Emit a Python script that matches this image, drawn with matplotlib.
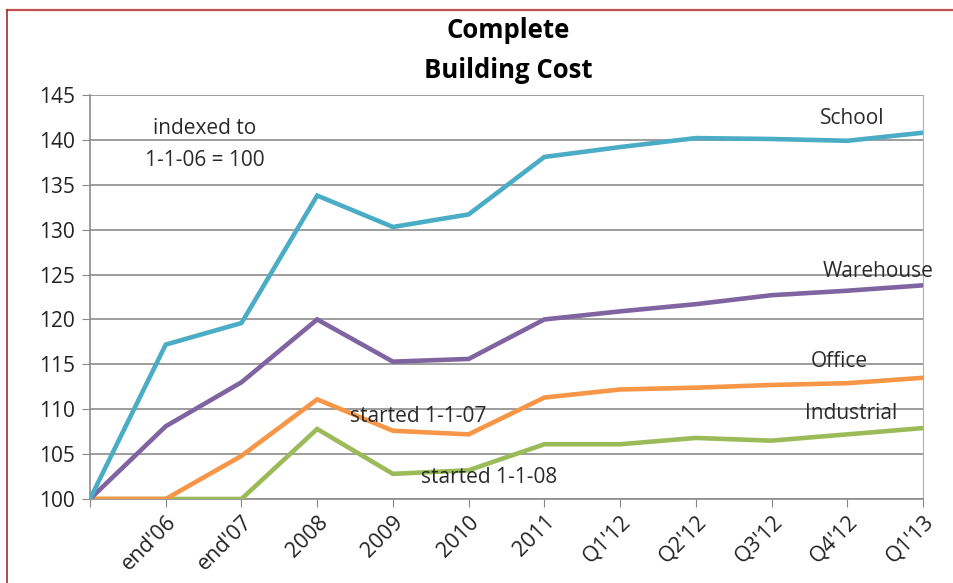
import matplotlib
matplotlib.use("Agg")
import matplotlib.pyplot as plt
from matplotlib.lines import Line2D

plt.rcParams['font.family'] = ['Open Sans', 'DejaVu Sans']

categories = ["", "end'06", "end'07", "2008", "2009", "2010", "2011",
              "Q1'12", "Q2'12", "Q3'12", "Q4'12", "Q1'13"]
school = [100, 117.2, 119.6, 133.8, 130.3, 131.7, 138.1, 139.2, 140.2, 140.1, 139.9, 140.8]
warehouse = [100, 108.1, 113.0, 120.0, 115.3, 115.6, 120.0, 120.9, 121.7, 122.7, 123.2, 123.8]
office = [100, 100, 104.8, 111.1, 107.6, 107.2, 111.3, 112.2, 112.4, 112.7, 112.9, 113.5]
industrial = [100, 100, 100, 107.8, 102.8, 103.2, 106.1, 106.1, 106.8, 106.5, 107.2, 107.9]

series = [("School", school, "#4BACC6"),
          ("Warehouse", warehouse, "#8064A2"),
          ("Office", office, "#F79646"),
          ("Industrial", industrial, "#9BBB59")]

fig = plt.figure(figsize=(9.54, 5.83), dpi=100)
ax = fig.add_axes([90/954, 1-499/583, (923-90)/954, (499-95)/583])

x = list(range(len(categories)))
for name, vals, col in series[::-1]:
    ax.plot(x, vals, color=col, lw=3.3, solid_joinstyle='miter', zorder=3)

ax.set_xlim(0, len(categories)-1)
ax.set_ylim(100, 145)
ax.set_yticks(range(100, 146, 5))
ax.set_xticks(x)
ax.set_xticklabels(categories, rotation=45, ha='right', rotation_mode='anchor',
                   fontsize=15.5, color='#222222')
ax.tick_params(axis='y', length=6, color='#888888', labelsize=15, labelcolor='#222222', pad=5)
ax.tick_params(axis='x', length=6, color='#888888', pad=3)
ax.grid(axis='y', color='#8c8c8c', lw=1.2, zorder=1)
for s in ['left', 'bottom']:
    ax.spines[s].set_color('#8c8c8c')
    ax.spines[s].set_linewidth(1.2)
ax.spines['right'].set_color('#b0b0b0')
ax.spines['right'].set_linewidth(0.8)
ax.spines['top'].set_visible(False)

fig.text(508/954, 1-30/583, "Complete", ha='center', va='center', fontsize=18.5, fontweight='bold')
fig.text(508/954, 1-70/583, "Building Cost", ha='center', va='center', fontsize=18.5, fontweight='bold')

fs = 15
tc = '#2a2a2a'
ax.text(1.52, 141.3, "indexed to", ha='center', va='center', fontsize=fs, color=tc)
ax.text(1.52, 137.7, "1-1-06 = 100", ha='center', va='center', fontsize=fs, color=tc)
ax.text(10.07, 142.4, "School", ha='center', va='center', fontsize=fs, color=tc, zorder=4)
ax.text(10.41, 125.3, "Warehouse", ha='center', va='center', fontsize=fs, color=tc, zorder=4,
        clip_on=False)
ax.text(9.89, 115.3, "Office", ha='center', va='center', fontsize=fs, color=tc, zorder=4)
ax.text(10.05, 109.5, "Industrial", ha='center', va='center', fontsize=fs, color=tc, zorder=4)
ax.text(4.33, 109.2, "started 1-1-07", ha='center', va='center', fontsize=fs, color=tc, zorder=4)
ax.text(5.27, 102.4, "started 1-1-08", ha='center', va='center', fontsize=fs, color=tc, zorder=4)

fig.add_artist(Line2D([7.5/954, 1], [1-9.5/583, 1-9.5/583], color='#C0504D', lw=1.6))
fig.add_artist(Line2D([7.5/954, 7.5/954], [0, 1-9.5/583], color='#A0302D', lw=1.2))

fig.savefig("out.png", dpi=100)
